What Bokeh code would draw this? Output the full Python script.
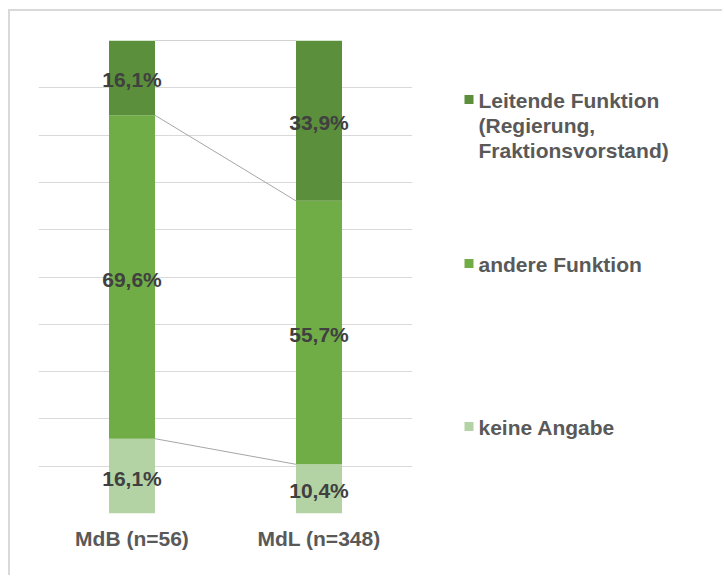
from bokeh.plotting import figure
from bokeh.models import ColumnDataSource, FactorRange, Range1d, FixedTicker
from bokeh.transform import dodge
from bokeh.layouts import row
from bokeh.embed import file_html
from bokeh.resources import INLINE
from bokeh.core.properties import value

# ---- data ----
categories = ["MdB (n=56)", "MdL (n=348)"]
series_names = ["keine Angabe", "andere Funktion",
                "Leitende Funktion\n(Regierung,\nFraktionsvorstand)"]
keine_angabe = [16.1, 10.4]
andere_funktion = [69.6, 55.7]
leitende_funktion = [16.1, 33.9]
series_colors = ["#B4D3A5", "#70AD47", "#5B8F3B"]
grid_ticks = [0.0, 0.1, 0.2, 0.3, 0.4, 0.5, 0.6, 0.7, 0.8, 0.9, 1.0]

FONT = value("Liberation Sans")
FS = "21px"
BAR_W = 0.246
H = 564
MB_TOP, MB_BOTTOM = 29, 62
FRAME_H = H - MB_TOP - MB_BOTTOM

series_values = [keine_angabe, andere_funktion, leitende_funktion]
totals = [sum(v[i] for v in series_values) for i in range(len(categories))]

p = figure(x_range=FactorRange(*categories), y_range=Range1d(0, 1),
           width=402, height=H, output_backend="svg", toolbar_location=None,
           min_border_left=28, min_border_right=0, min_border_top=MB_TOP,
           min_border_bottom=MB_BOTTOM)
p.outline_line_color = None
p.yaxis.visible = False
p.xgrid.visible = False
p.ygrid.ticker = FixedTicker(ticks=grid_ticks)
p.ygrid.grid_line_color = "#D9D9D9"
p.ygrid.grid_line_width = 1
p.xaxis.axis_line_color = None
p.xaxis.major_tick_line_color = None
p.xaxis.minor_tick_line_color = None
p.xaxis.major_label_text_font = "Liberation Sans"
p.xaxis.major_label_text_font_style = "bold"
p.xaxis.major_label_text_font_size = FS
p.xaxis.major_label_text_color = "#595959"
p.xaxis.major_label_standoff = 7

bottoms = [0.0] * len(categories)
tops_per_series = []
for vals, col in zip(series_values, series_colors):
    frac = [v / t for v, t in zip(vals, totals)]
    top = [b + f for b, f in zip(bottoms, frac)]
    src = ColumnDataSource(dict(
        cat=categories, bottom=bottoms, top=top,
        mid=[(b + t) / 2 for b, t in zip(bottoms, top)],
        label=[("%.1f%%" % v).replace(".", ",") for v in vals]))
    p.vbar(x="cat", bottom="bottom", top="top", width=BAR_W, source=src,
           fill_color=col, line_color=None)
    tops_per_series.append(top)
    bottoms = top
    p.text(x="cat", y="mid", text="label", source=src, text_align="center",
           text_baseline="middle", text_font=FONT, text_font_style="bold",
           text_font_size=FS, text_color="#404040", y_offset=2)

# series lines between the columns
line_src = ColumnDataSource(dict(
    c0=[categories[0]] * 3, c1=[categories[1]] * 3,
    y0=[t[0] for t in tops_per_series], y1=[t[1] for t in tops_per_series]))
p.segment(x0=dodge("c0", BAR_W / 2, range=p.x_range), y0="y0",
          x1=dodge("c1", -BAR_W / 2, range=p.x_range), y1="y1",
          source=line_src, line_color="#A6A6A6", line_width=1)

# ---- legend panel (pixel coordinates relative to the plot frame) ----
LW = 310
q = figure(x_range=Range1d(0, LW), y_range=Range1d(FRAME_H, 0), width=LW, height=H,
           output_backend="svg", toolbar_location=None, min_border_left=0,
           min_border_right=0, min_border_top=MB_TOP, min_border_bottom=MB_BOTTOM)
q.axis.visible = False
q.grid.visible = False
q.outline_line_color = None

legend_order = [2, 1, 0]
item_y = [59, 223, 386]
sq_x, txt_x, line_step = 56.5, 66, 25
sq = dict(x=[], y=[], c=[])
tx = dict(x=[], y=[], t=[])
for idx, yy in zip(legend_order, item_y):
    sq["x"].append(sq_x); sq["y"].append(yy); sq["c"].append(series_colors[idx])
    for k, line in enumerate(series_names[idx].split("\n")):
        tx["x"].append(txt_x); tx["y"].append(yy + k * line_step); tx["t"].append(line)
q.rect(x="x", y="y", width=9, height=9, fill_color="c", line_color=None,
       source=ColumnDataSource(sq))
q.text(x="x", y="y", text="t", source=ColumnDataSource(tx), text_align="left",
       text_baseline="middle", text_font=FONT, text_font_style="bold",
       text_font_size=FS, text_color="#595959", y_offset=1)

layout = row(p, q, styles={"border-top": "2px solid #D9D9D9",
                           "border-left": "2px solid #D9D9D9",
                           "margin-top": "9px", "margin-left": "8px"})

open("out.html", "w").write(file_html(layout, INLINE))
